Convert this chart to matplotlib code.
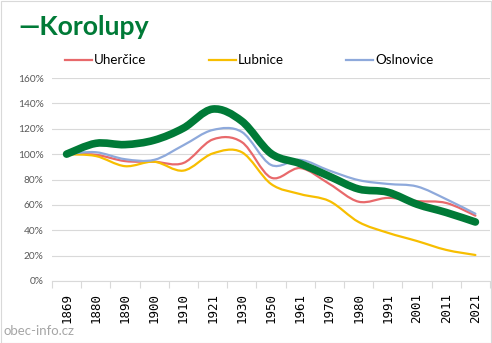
import numpy as np
import matplotlib
matplotlib.use("Agg")
import matplotlib.pyplot as plt
from matplotlib.path import Path
from matplotlib.patches import PathPatch, Rectangle
from matplotlib.lines import Line2D

years = ["1869", "1880", "1890", "1900", "1910", "1921", "1930", "1950",
         "1961", "1970", "1980", "1991", "2001", "2011", "2021"]

korolupy = [100, 108.5, 107.5, 111, 120.5, 135.5, 126, 100.5, 92.5, 82.5, 72.5, 70, 60.5, 54, 46.5]
uhercice = [100, 99.5, 94.5, 94, 93, 111.5, 109.5, 81.5, 89, 76.5, 62.5, 65.5, 63, 61.5, 51.5]
lubnice = [100, 98.5, 90.5, 94, 87, 100.5, 101.5, 76.5, 68.5, 63, 46.5, 38, 31.5, 24.5, 20.5]
oslnovice = [100, 101.5, 96, 95.5, 107, 119, 117.5, 91.5, 95.5, 87, 79.5, 76.5, 74.5, 64.5, 53]

series = [
    ("Uherčice", uhercice, "#E8696B", 1.6),
    ("Lubnice", lubnice, "#F7BE00", 1.6),
    ("Oslnovice", oslnovice, "#8EA9DB", 1.6),
]

W, H = 492, 343
fig = plt.figure(figsize=(W / 100, H / 100), dpi=100)
fig.patch.set_facecolor("white")
FONT = ["Lato", "DejaVu Sans"]
MONO = ["DejaVu Sans Mono"]


def smooth_path(xs, ys, tension=1 / 6):
    """Cardinal (Catmull-Rom style) cubic Bezier through the points."""
    pts = np.column_stack([xs, ys]).astype(float)
    n = len(pts)
    verts = [pts[0]]
    codes = [Path.MOVETO]
    for i in range(n - 1):
        p0 = pts[i - 1] if i > 0 else pts[i]
        p1 = pts[i]
        p2 = pts[i + 1]
        p3 = pts[i + 2] if i + 2 < n else pts[i + 1]
        c1 = p1 + (p2 - p0) * tension
        c2 = p2 - (p3 - p1) * tension
        verts += [c1, c2, p2]
        codes += [Path.CURVE4] * 3
    return Path(verts, codes)


ax = fig.add_axes([52 / W, (H - 281) / H, (490 - 52) / W, (281 - 78) / H])
x = np.arange(len(years))

for name, vals, color, lw in series:
    ax.add_patch(PathPatch(smooth_path(x, vals), facecolor="none", edgecolor=color,
                           lw=lw, capstyle="round", joinstyle="round", zorder=3))
ax.add_patch(PathPatch(smooth_path(x, korolupy), facecolor="none", edgecolor="#007A37",
                       lw=5.5, capstyle="round", joinstyle="round", zorder=4))

ax.set_xlim(-0.5, len(years) - 0.5)
ax.set_ylim(0, 160)
ax.set_yticks(np.arange(0, 161, 20))
ax.set_yticklabels([f"{v}%" for v in range(0, 161, 20)])
ax.set_xticks(x)
ax.set_xticklabels(years, rotation=90)
ax.set_xticks(np.arange(-0.5, len(years), 1), minor=True)
ax.tick_params(axis="x", which="major", length=0, pad=8.5, labelsize=9, labelcolor="#000000")
ax.tick_params(axis="x", which="minor", length=5, color="#D9D9D9", width=0.8)
ax.tick_params(axis="y", length=0, pad=6, labelsize=7.3, labelcolor="#595959")
for lab in ax.get_xticklabels():
    lab.set_family(MONO)
for lab in ax.get_yticklabels():
    lab.set_family(FONT)
ax.grid(axis="y", color="#D9D9D9", lw=0.8, zorder=0)
ax.set_axisbelow(True)
for s in ["top", "right", "left"]:
    ax.spines[s].set_visible(False)
ax.spines["bottom"].set_color("#D9D9D9")
ax.spines["bottom"].set_linewidth(0.8)

# Chart title with its own line marker
fig.text(18 / W, 1 - 27 / H, "—Korolupy", color="#007A37", fontsize=19.2, fontweight="bold",
         family=FONT, va="center", ha="left")

# Legend row
legend_items = [("Uherčice", "#E8696B", 65), ("Lubnice", "#F7BE00", 209),
                ("Oslnovice", "#8EA9DB", 346)]
for name, color, px in legend_items:
    fig.add_artist(Line2D([px / W, (px + 27) / W], [1 - 60 / H, 1 - 60 / H],
                          color=color, lw=1.6))
    fig.text((px + 29) / W, 1 - 60 / H, name, fontsize=9.6, family=FONT,
             va="center", ha="left", color="#000000")

fig.text(3 / W, 1 - 331 / H, "obec-info.cz", fontsize=9.5, family=FONT, color="#A6A6A6",
         va="center", ha="left")

# thin chart frame
fig.add_artist(Rectangle((0.5 / W, 0.5 / H), 1 - 1.5 / W, 1 - 1.5 / H,
                         transform=fig.transFigure, fill=False, ec="#D9D9D9", lw=0.8))

fig.savefig("out.png", dpi=100)
